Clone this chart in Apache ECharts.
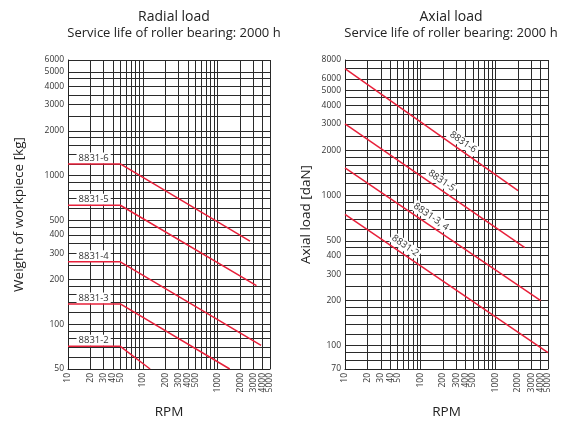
<!DOCTYPE html>
<html>
<head>
<meta charset="utf-8">
<script src="https://cdn.jsdelivr.net/npm/echarts@6/dist/echarts.min.js"></script>
<style>
    html, body { margin: 0; padding: 0; background: #fff; }
    #myChart { width: 561px; height: 424px; }
</style>
</head>
<body>
<div id="myChart"></div>
<script>
// tick labels
var rpmLabels = [10, 20, 30, 40, 50, 100, 200, 300, 400, 500, 1000, 2000, 3000, 4000, 5000];
var radialLabels = [50, 100, 200, 300, 400, 500, 1000, 2000, 3000, 4000, 5000, 6000];
var axialLabels = [70, 100, 200, 300, 400, 500, 1000, 2000, 3000, 4000, 5000, 6000, 7000, 8000];

// grid lines of the log paper
var rpmGrid = [10, 20, 30, 40, 50, 60, 70, 80, 90, 100, 200, 300, 400, 500, 600, 700, 800, 900,
    1000, 2000, 3000, 4000, 5000];
var radialGrid = [50, 60, 70, 80, 90, 100, 120, 140, 160, 180, 200, 250, 300, 350, 400, 450, 500,
    600, 700, 800, 900, 1000, 1200, 1400, 1600, 1800, 2000, 2500, 3000, 3500, 4000, 4500, 5000, 6000];
var axialGrid = [70, 80, 90, 100, 120, 140, 160, 180, 200, 250, 300, 350, 400, 450, 500,
    600, 700, 800, 900, 1000, 1200, 1400, 1600, 1800, 2000, 2500, 3000, 3500, 4000, 4500, 5000,
    6000, 7000, 8000];

// radial load [kg] over rpm
var radialNames = ['8831-6', '8831-5', '8831-4', '8831-3', '8831-2'];
var radial6 = [[10, 1200], [50, 1200], [2700, 362]];
var radial5 = [[10, 632], [50, 632], [3300, 182]];
var radial4 = [[10, 263], [50, 263], [3800, 72]];
var radial3 = [[10, 137], [50, 137], [1450, 50]];
var radial2 = [[10, 71], [50, 71], [125, 50]];

// axial load [daN] over rpm
var axialNames = ['8831-6', '8831-5', '8831-3, 4', '8831-2'];
var axial6 = [[10, 7000], [2000, 1080]];
var axial5 = [[10, 3000], [2460, 450]];
var axial34 = [[10, 1530], [4000, 200]];
var axial2 = [[10, 750], [5000, 90]];

// where the curve names sit (rpm)
var radialLabelRpm = [22, 22, 22, 22, 22];
var axialLabelRpm = [300, 155, 113, 51];

var FONT = '"Open Sans", Lato, sans-serif';
var RED = '#e8203a';
var GRIDCOLOR = '#2a2a2a';

// echarts drops one of two touching rotated labels, so every other
// rpm label goes on a second (invisible) axis with the same scale
var rpmLabelsA = rpmLabels.filter(function (v, k) { return k % 2 === 0; });
var rpmLabelsB = rpmLabels.filter(function (v, k) { return k % 2 === 1; });

// value on a log-log polyline
function valueAt(pts, x) {
    for (var i = 0; i < pts.length - 1; i++) {
        var a = pts[i], b = pts[i + 1];
        if (x >= a[0] && x <= b[0]) {
            var t = (Math.log(x) - Math.log(a[0])) / (Math.log(b[0]) - Math.log(a[0]));
            return Math.exp(Math.log(a[1]) + t * (Math.log(b[1]) - Math.log(a[1])));
        }
    }
    return pts[pts.length - 1][1];
}

function plain(v) {
    return String(Math.round(v));
}

function makeSeries(name, pts, idx, labelX, rotate, offset) {
    return {
        type: 'line',
        name: name,
        xAxisIndex: idx,
        yAxisIndex: idx,
        data: pts,
        symbol: 'none',
        silent: true,
        z: 5,
        lineStyle: { color: RED, width: 1.5 },
        markPoint: {
            symbol: 'circle',
            symbolSize: 0,
            silent: true,
            data: [{
                coord: [labelX, valueAt(pts, labelX)],
                label: {
                    show: true,
                    position: 'inside',
                    formatter: name,
                    rotate: rotate,
                    offset: offset,
                    color: '#333',
                    fontSize: 9.5,
                    lineHeight: 11,
                    fontFamily: FONT,
                    backgroundColor: '#fff',
                    padding: [0, 2]
                }
            }]
        }
    };
}

var xLabelStyle = { rotate: 90, fontSize: 8.5, lineHeight: 7, color: '#333', fontFamily: FONT, margin: 4, formatter: plain, hideOverlap: false };

function makeX(idx) {
    return {
        type: 'log',
        logBase: 10,
        gridIndex: idx,
        position: 'bottom',
        min: 10,
        max: 5000,
        name: 'RPM',
        nameLocation: 'middle',
        nameGap: 36,
        nameTextStyle: { fontSize: 13.5, color: '#222', fontFamily: FONT },
        axisLine: { show: true, lineStyle: { color: '#222', width: 1 } },
        axisTick: { show: false, customValues: rpmGrid },
        axisLabel: Object.assign({ customValues: rpmLabelsA }, xLabelStyle),
        splitLine: { show: true, lineStyle: { color: GRIDCOLOR, width: 1 } }
    };
}

function makeXLabelsOnly(idx) {
    return {
        type: 'log',
        logBase: 10,
        gridIndex: idx,
        position: 'bottom',
        offset: 0,
        min: 10,
        max: 5000,
        axisLine: { show: false },
        axisTick: { show: false },
        axisLabel: Object.assign({ customValues: rpmLabelsB }, xLabelStyle),
        splitLine: { show: false }
    };
}

function makeY(idx, min, max, name, gap, grid, labels) {
    return {
        type: 'log',
        logBase: 10,
        gridIndex: idx,
        min: min,
        max: max,
        name: name,
        nameLocation: 'middle',
        nameGap: gap,
        nameTextStyle: { fontSize: 13.5, color: '#222', fontFamily: FONT },
        axisLine: { show: true, lineStyle: { color: '#222', width: 1 } },
        axisTick: { show: false, customValues: grid },
        axisLabel: {
            customValues: labels, fontSize: 8.5, lineHeight: 7, color: '#333', fontFamily: FONT, margin: 4,
            formatter: plain, hideOverlap: false, showMinLabel: true, showMaxLabel: true
        },
        splitLine: { show: true, lineStyle: { color: GRIDCOLOR, width: 1 } }
    };
}

var radialData = [radial6, radial5, radial4, radial3, radial2];
var axialData = [axial6, axial5, axial34, axial2];
var series = [];
for (var i = 0; i < radialData.length; i++) {
    series.push(makeSeries(radialNames[i], radialData[i], 0, radialLabelRpm[i], 0, [0, -6]));
}
for (var j = 0; j < axialData.length; j++) {
    series.push(makeSeries(axialNames[j], axialData[j], 1, axialLabelRpm[j], -35, [3, -8]));
}

var titleRich = {
    a: { fontSize: 14, lineHeight: 16, color: '#222', fontFamily: FONT },
    b: { fontSize: 13, lineHeight: 16, color: '#222', fontFamily: FONT }
};

var myChart = echarts.init(document.getElementById('myChart'));
myChart.setOption({
    animation: false,
    backgroundColor: '#fff',
    title: [
        {
            text: '{a|Radial load}\n{b|Service life of roller bearing: 2000 h}',
            left: 169, top: 4, textAlign: 'center',
            textStyle: { fontWeight: 'normal', rich: titleRich }
        },
        {
            text: '{a|Axial load}\n{b|Service life of roller bearing: 2000 h}',
            left: 446, top: 4, textAlign: 'center',
            textStyle: { fontWeight: 'normal', rich: titleRich }
        }
    ],
    grid: [
        { left: 68, top: 60, width: 202, height: 314 },
        { left: 345, top: 60, width: 203, height: 314 }
    ],
    xAxis: [makeX(0), makeX(1), makeXLabelsOnly(0), makeXLabelsOnly(1)],
    yAxis: [
        makeY(0, 50, 6000, 'Weight of workpiece [kg]', 42, radialGrid, radialLabels),
        makeY(1, 70, 8000, 'Axial load [daN]', 32, axialGrid, axialLabels)
    ],
    series: series
});
</script>
</body>
</html>
